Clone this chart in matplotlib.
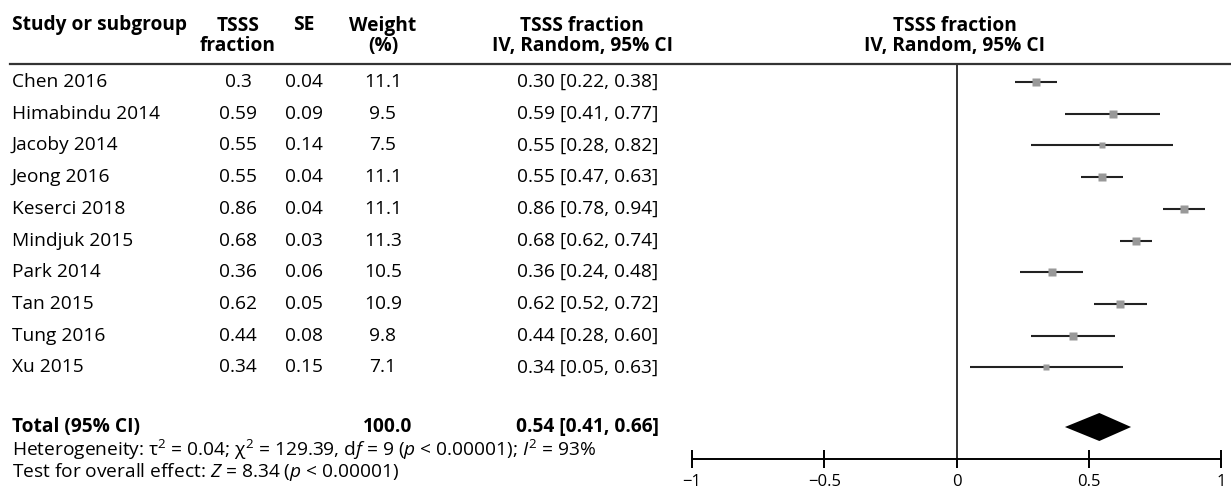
import matplotlib
matplotlib.use("Agg")
import matplotlib.pyplot as plt
from matplotlib.lines import Line2D

# Data
studies = ["Chen 2016", "Himabindu 2014", "Jacoby 2014", "Jeong 2016", "Keserci 2018",
           "Mindjuk 2015", "Park 2014", "Tan 2015", "Tung 2016", "Xu 2015"]
fraction = [0.30, 0.59, 0.55, 0.55, 0.86, 0.68, 0.36, 0.62, 0.44, 0.34]
fraction_txt = ["0.3", "0.59", "0.55", "0.55", "0.86", "0.68", "0.36", "0.62", "0.44", "0.34"]
se = ["0.04", "0.09", "0.14", "0.04", "0.04", "0.03", "0.06", "0.05", "0.08", "0.15"]
weight = [11.1, 9.5, 7.5, 11.1, 11.1, 11.3, 10.5, 10.9, 9.8, 7.1]
ci_low = [0.22, 0.41, 0.28, 0.47, 0.78, 0.62, 0.24, 0.52, 0.28, 0.05]
ci_high = [0.38, 0.77, 0.82, 0.63, 0.94, 0.74, 0.48, 0.72, 0.60, 0.63]
total_weight = 100.0
total_est, total_low, total_high = 0.54, 0.41, 0.66
xticks = [-1, -0.5, 0, 0.5, 1]
xtick_labels = ["\u22121", "\u22120.5", "0", "0.5", "1"]

plt.rcParams['font.family'] = ['Open Sans', 'DejaVu Sans']
plt.rcParams['mathtext.fontset'] = 'custom'
plt.rcParams['mathtext.rm'] = 'Open Sans'
plt.rcParams['mathtext.it'] = 'Open Sans:italic'

W, H = 1231, 490
fig = plt.figure(figsize=(W / 100, H / 100), dpi=100)

def px(x, y):
    # pixel position -> figure fraction
    return x / W, 1 - y / H

fs = 13.8
row0, step = 82, 31.7
total_y = 427

# header
hdr = dict(fontsize=fs, fontweight='bold', va='center')
fig.text(*px(12, 25), "Study or subgroup", ha='left', **hdr)
fig.text(*px(238, 36), "TSSS\nfraction", ha='center', linespacing=1.0, **hdr)
fig.text(*px(304, 25), "SE", ha='center', **hdr)
fig.text(*px(383, 36), "Weight\n(%)", ha='center', linespacing=1.0, **hdr)
fig.text(*px(582, 36), "TSSS fraction\nIV, Random, 95% CI", ha='center', linespacing=1.0, **hdr)
fig.text(*px(955, 36), "TSSS fraction\nIV, Random, 95% CI", ha='center', linespacing=1.0, **hdr)
fig.add_artist(Line2D([10 / W, 1], [1 - 64 / H] * 2, color='#333333', lw=1.6,
                      transform=fig.transFigure))

# table rows
for i, name in enumerate(studies):
    y = row0 + i * step
    fig.text(*px(12, y), name, ha='left', va='center', fontsize=fs)
    fig.text(*px(238, y), fraction_txt[i], ha='center', va='center', fontsize=fs)
    fig.text(*px(304, y), se[i], ha='center', va='center', fontsize=fs)
    fig.text(*px(383, y), f"{weight[i]:.1f}", ha='center', va='center', fontsize=fs)
    fig.text(*px(588, y), f"{fraction[i]:.2f} [{ci_low[i]:.2f}, {ci_high[i]:.2f}]",
             ha='center', va='center', fontsize=fs)

fig.text(*px(12, total_y), "Total (95% CI)", ha='left', va='center', fontsize=fs, fontweight='bold')
fig.text(*px(388, total_y), f"{total_weight:.1f}", ha='center', va='center', fontsize=fs, fontweight='bold')
fig.text(*px(588, total_y), f"{total_est:.2f} [{total_low:.2f}, {total_high:.2f}]",
         ha='center', va='center', fontsize=fs, fontweight='bold')
fig.text(*px(12, 450), "Heterogeneity: \u03c4$^2$ = 0.04; \u03c7$^2$ = 129.39, d$\\it{f}$ = 9 ($\\it{p}$ < 0.00001); $\\it{I}^2$ = 93%",
         ha='left', va='center', fontsize=fs)
fig.text(*px(12, 472), "Test for overall effect: $\\it{Z}$ = 8.34 ($\\it{p}$ < 0.00001)",
         ha='left', va='center', fontsize=fs)

# forest axes: x from -1 (px 692) to 1 (px 1221), y from header line (64) to axis (459)
ax_top, ax_bot = 64, 459
ax = fig.add_axes([692 / W, 1 - ax_bot / H, (1221 - 692) / W, (ax_bot - ax_top) / H])
ax.set_xlim(-1, 1)
ax.set_ylim(ax_bot, ax_top)
ax.patch.set_visible(False)

ys = [row0 + i * step for i in range(len(studies))]
ax.hlines(ys, ci_low, ci_high, color='#222222', lw=1.5)
for y, f, w in zip(ys, fraction, weight):
    ax.plot(f, y, marker='s', color='#999999', markersize=(2.5 + 0.5 * w) * 0.72, mec='none')

ax.fill([total_low, total_est, total_high, total_est],
        [total_y, total_y - 14, total_y, total_y + 14], color='black', lw=0)
ax.axvline(0, color='#333333', lw=1.4)

for s in ['top', 'right', 'left']:
    ax.spines[s].set_visible(False)
ax.spines['bottom'].set_linewidth(1.4)
ax.set_yticks([])
ax.set_xticks(xticks)
ax.set_xticklabels(xtick_labels, fontsize=12)
ax.tick_params(axis='x', direction='inout', length=13, width=1.4, pad=4)

fig.savefig("out.png", dpi=100)
